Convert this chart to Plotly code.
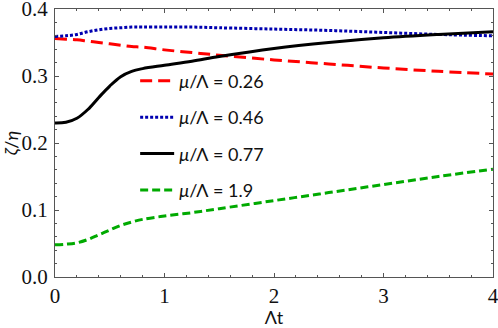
import plotly.graph_objects as go

# tiempo (Λt) y curvas ζ/η
t = [0, 0.1, 0.2, 0.3, 0.4, 0.5, 0.6, 0.7, 0.8, 1.0, 1.25, 1.5, 2, 2.5, 3, 3.5, 4]

mu_026 = [0.356, 0.355, 0.354, 0.352, 0.350, 0.348, 0.346, 0.344, 0.343, 0.339,
          0.335, 0.331, 0.324, 0.318, 0.312, 0.307, 0.303]
mu_046 = [0.359, 0.360, 0.362, 0.366, 0.369, 0.371, 0.372, 0.373, 0.373, 0.373,
          0.373, 0.372, 0.370, 0.368, 0.365, 0.362, 0.360]
mu_077 = [0.230, 0.231, 0.237, 0.250, 0.268, 0.285, 0.299, 0.307, 0.311, 0.316,
          0.322, 0.329, 0.341, 0.350, 0.357, 0.362, 0.366]
mu_19 = [0.048, 0.049, 0.051, 0.056, 0.063, 0.070, 0.077, 0.082, 0.086, 0.091,
         0.096, 0.102, 0.114, 0.126, 0.138, 0.150, 0.161]

labels = ["0.26", "0.46", "0.77", "1.9"]
series = [mu_026, mu_046, mu_077, mu_19]
colores = ["#ff0000", "#0000b0", "#000000", "#00aa00"]
estilos = ["12px,6px", "3px,2px", "solid", "8px,4px"]

x_ticks = [0, 1, 2, 3, 4]
y_ticks = [0.0, 0.1, 0.2, 0.3, 0.4]

fig = go.Figure()
for i, (lab, y) in enumerate(zip(labels, series)):
    fig.add_trace(go.Scatter(
        x=t, y=y, mode="lines", line_shape="spline",
        name=f"<i>μ</i>/Λ = {lab}", legendgroup=lab,
        line=dict(color=colores[i], width=3, dash=estilos[i]),
    ))

eje = dict(showline=True, linecolor="#555", linewidth=1, mirror="allticks",
           ticks="inside", ticklen=4, tickcolor="#555", showgrid=False,
           zeroline=False, automargin=False, ticklabeloverflow="allow",
           tickfont=dict(family="Liberation Serif", size=21, color="#111"))

fig.update_layout(
    width=498, height=328,
    margin=dict(l=55, r=5, t=9, b=51),
    paper_bgcolor="white", plot_bgcolor="white",
    font=dict(family="Lato", size=18, color="#111"),
    showlegend=True,
    legend=dict(x=0.183, y=0.80, xanchor="left", yanchor="top",
                bgcolor="rgba(0,0,0,0)", tracegroupgap=10, itemwidth=34,
                font=dict(family="Lato", size=18)),
    xaxis=dict(eje, range=[0, 4], tickvals=x_ticks, ticktext=[str(v) for v in x_ticks],
               minor=dict(dtick=0.2, ticks="inside", ticklen=2, tickcolor="#555"),
               title=dict(text="Λt", standoff=13, font=dict(size=18))),
    yaxis=dict(eje, range=[0, 0.4], tickvals=y_ticks, ticktext=[f"{v:.1f}" for v in y_ticks],
               minor=dict(dtick=0.02, ticks="inside", ticklen=2, tickcolor="#555"),
               ticklabelstandoff=2,
               title=dict(text="<i>ζ</i>/<i>η</i>", standoff=6, font=dict(size=18))),
)

# quitar el margen por defecto del body para que la figura quepa en la ventana
fig.write_html("out.html", config={"displayModeBar": False},
               post_script="document.body.style.margin='0';")
